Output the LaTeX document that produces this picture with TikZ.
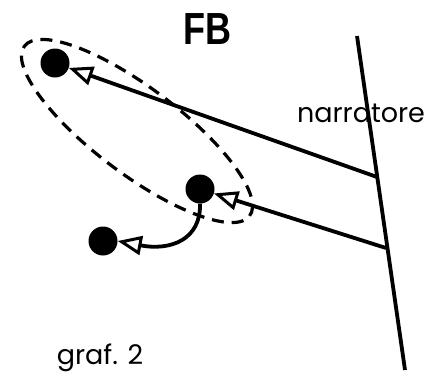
\documentclass[tikz,border=0pt]{standalone}
\usepackage{fontspec}
\setmainfont{Poppins}
\newfontfamily\titlefont{Liberation Sans}
\usetikzlibrary{arrows.meta}
\tikzset{
  dot/.style={circle,fill=black,inner sep=0pt,minimum size=29pt},
  link/.style={line width=3.8pt,-{Triangle[fill=white,length=24pt,width=19pt,line width=3pt]}},
  plain/.style={line width=3.8pt},
  group/.style={line width=3.2pt,dash pattern=on 12pt off 8pt}
}
\begin{document}
\begin{tikzpicture}[x=1pt,y=-1pt]
\useasboundingbox (0,0) rectangle (435,376);
\node (title) at (207,29) {\titlefont\bfseries\fontsize{45}{45}\selectfont\scalebox{0.8}[1]{FB}};
\node[dot] (A) at (55,63) {};
\node[dot] (B) at (200,189) {};
\node[dot] (C) at (103,241) {};
\coordinate (ntop) at (357,36);
\coordinate (nbot) at (405,370);
\coordinate (n1) at (377,177);
\coordinate (n2) at (386,248);
\draw[plain] (ntop) -- (nbot);
\draw[link] (n1) -- (A);
\draw[link] (n2) -- (B);
\draw[link] (B.south) .. controls (201,240) and (170,251) .. (C.east);
\draw[group,rotate around={-37:(137,131)}] (137,131) ellipse [x radius=141pt, y radius=43pt];
\node (narr) at (361,113) {\fontsize{27}{27}\selectfont narratore};
\node (graf) at (100,358) {\fontsize{27}{27}\selectfont graf. 2};
\end{tikzpicture}
\end{document}
